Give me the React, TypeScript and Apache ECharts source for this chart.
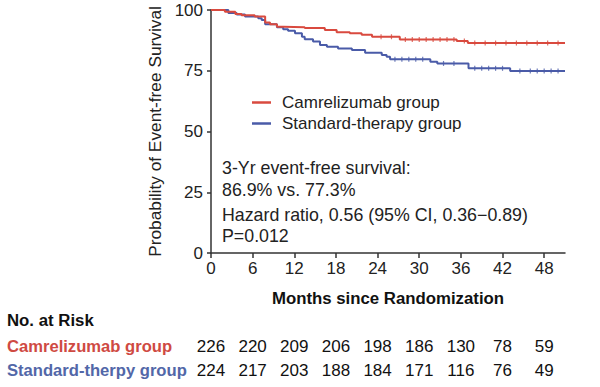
import React, { useEffect, useRef } from "react";
import * as echarts from "echarts";

const xTicks = [0, 6, 12, 18, 24, 30, 36, 42, 48];
const yTicks = [0, 25, 50, 75, 100];

const camrelizumabCurve: [number, number][] = [
  [0, 100], [2.0, 99.3], [3.5, 98.4], [4.4, 97.8], [6.3, 97.3], [7.8, 94.9],
  [8.5, 94.1], [9.5, 93.1], [10.4, 92.9], [13.5, 92.6], [16.4, 91.8],
  [18.1, 90.8], [20.0, 90.4], [21.7, 89.8], [23.2, 89.0], [27.2, 87.9],
  [35.4, 87.2], [37.0, 86.4], [51, 86.4],
];
const standardCurve: [number, number][] = [
  [0, 100], [2.5, 98.8], [3.7, 98.1], [4.9, 97.3], [6.8, 96.6], [7.3, 95.9],
  [7.8, 94.1], [9.5, 92.9], [10.4, 92.1], [11.1, 91.5], [12.1, 90.4],
  [13.1, 89.0], [13.5, 88.0], [14.7, 87.0], [15.7, 85.6], [16.7, 84.9],
  [18.3, 84.2], [20.3, 83.5], [22.2, 82.4], [24.6, 81.5], [25.3, 80.8],
  [25.8, 79.7], [31.6, 78.7], [32.6, 78.0], [37.1, 76.0], [43.1, 74.9],
  [51, 74.9],
];
const camrelizumabCensor = [24.5, 26, 28, 29, 30, 31, 32, 33, 34, 35, 36.5, 38, 39.5, 41, 42.5, 44, 45.5, 47, 48.5, 50];
const standardCensor = [26.5, 27.5, 28.5, 29.5, 30.5, 33.5, 35, 38, 39, 40, 41, 42, 44.5, 46, 47, 48, 49, 50];

const groupNames = ["Camrelizumab group", "Standard-therapy group"];
const riskRowLabels = ["Camrelizumab group", "Standard-therpy group"];
const riskMonths = [0, 6, 12, 18, 24, 30, 36, 42, 48];
const camrelizumabAtRisk = [226, 220, 209, 206, 198, 186, 130, 78, 59];
const standardAtRisk = [224, 217, 203, 188, 184, 171, 116, 76, 49];
const annotationLines = [
  "3-Yr event-free survival:",
  "86.9% vs. 77.3%",
  "Hazard ratio, 0.56 (95% CI, 0.36\u22120.89)",
  "P=0.012",
];

const RED = "#d94a3f";
const BLUE = "#4a5ba8";
const RED_TEXT = "#cf4a43";
const BLUE_TEXT = "#5267a8";
const FONT = "'Liberation Sans', Arial, sans-serif";

function valueAt(curve: [number, number][], t: number): number {
  let v = curve[0][1];
  for (const [x, y] of curve) {
    if (x <= t) v = y;
  }
  return v;
}

export default function App() {
  const ref = useRef<HTMLDivElement>(null);
  useEffect(() => {
    if (!ref.current) return;
    const chart = echarts.init(ref.current, undefined, { renderer: "svg" });

    chart.setOption({
      animation: false,
      backgroundColor: "#fff",
      grid: { left: 211, top: 10, right: 35, bottom: 134 },
      legend: {
        orient: "vertical",
        left: 247,
        top: 89,
        icon: "rect",
        itemWidth: 19,
        itemHeight: 2.5,
        itemGap: 4,
        data: groupNames,
        textStyle: { fontFamily: FONT, fontSize: 17, color: "#222", padding: [0, 0, 0, 6] },
      },
      xAxis: {
        type: "value",
        min: 0,
        max: 51,
        interval: 6,
        name: "Months since Randomization",
        nameLocation: "middle",
        nameGap: 37,
        nameTextStyle: { fontFamily: FONT, fontSize: 16.8, fontWeight: "bold", color: "#111" },
        axisLine: { show: true, lineStyle: { color: "#333", width: 1.5 } },
        axisTick: { show: true, inside: false, length: 5, customValues: xTicks, lineStyle: { color: "#333", width: 1.5 } },
        axisLabel: { customValues: xTicks, margin: 7, fontFamily: FONT, fontSize: 17, color: "#222" },
        splitLine: { show: false },
      },
      yAxis: {
        type: "value",
        min: 0,
        max: 100,
        interval: 25,
        name: "Probability of Event-free Survival",
        nameLocation: "middle",
        nameGap: 48,
        nameTextStyle: { fontFamily: FONT, fontSize: 17.3, color: "#222" },
        axisLine: { show: true, lineStyle: { color: "#333", width: 1.5 } },
        axisTick: { show: true, inside: false, length: 4, customValues: yTicks, lineStyle: { color: "#333", width: 1.5 } },
        axisLabel: { margin: 8, fontFamily: FONT, fontSize: 17, color: "#222" },
        splitLine: { show: false },
      },
      series: [
        {
          name: groupNames[0],
          type: "line",
          step: "end",
          data: camrelizumabCurve,
          showSymbol: false,
          lineStyle: { color: RED, width: 2 },
          itemStyle: { color: RED },
          z: 3,
        },
        {
          name: groupNames[1],
          type: "line",
          step: "end",
          data: standardCurve,
          showSymbol: false,
          lineStyle: { color: BLUE, width: 2 },
          itemStyle: { color: BLUE },
          z: 2,
        },
        {
          type: "scatter",
          data: camrelizumabCensor.map((t) => [t, valueAt(camrelizumabCurve, t)]),
          symbol: "rect",
          symbolSize: [1.2, 5],
          itemStyle: { color: RED },
          z: 3,
        },
        {
          type: "scatter",
          data: standardCensor.map((t) => [t, valueAt(standardCurve, t)]),
          symbol: "rect",
          symbolSize: [1.2, 5],
          itemStyle: { color: BLUE },
          z: 2,
        },
      ],
    });

    const annotationY = [168, 190, 215, 236];
    const graphic: any[] = [];
    annotationLines.forEach((t, i) => {
      graphic.push({
        type: "text",
        x: 222,
        y: annotationY[i],
        style: { text: t, font: `17.8px ${FONT}`, fill: "#222", verticalAlign: "middle" },
      });
    });
    graphic.push({
      type: "text",
      x: 7,
      y: 320,
      style: { text: "No. at Risk", font: `bold 16.8px ${FONT}`, fill: "#111", verticalAlign: "middle" },
    });
    [camrelizumabAtRisk, standardAtRisk].forEach((row, r) => {
      const y = r === 0 ? 346 : 370;
      graphic.push({
        type: "text",
        x: 7,
        y,
        style: {
          text: riskRowLabels[r],
          font: `bold 16.6px ${FONT}`,
          fill: r === 0 ? RED_TEXT : BLUE_TEXT,
          verticalAlign: "middle",
          align: "left",
        },
      });
      row.forEach((n, i) => {
        const px = chart.convertToPixel({ xAxisIndex: 0 }, riskMonths[i]) as number;
        graphic.push({
          type: "text",
          x: px,
          y,
          style: {
            text: String(n),
            font: `17px ${FONT}`,
            fill: "#111",
            align: "center",
            verticalAlign: "middle",
          },
        });
      });
    });
    chart.setOption({ graphic });
    return () => chart.dispose();
  }, []);
  return (
    <div
      ref={ref}
      style={{ position: "absolute", left: 0, top: 0, width: 600, height: 387 }}
    />
  );
}
